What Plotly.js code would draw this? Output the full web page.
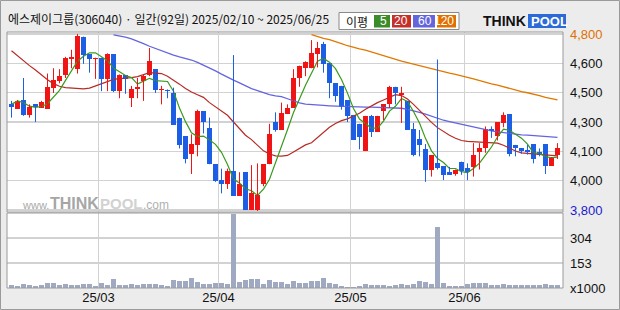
<!DOCTYPE html>
<html><head><meta charset="utf-8">
<script src="https://cdn.plot.ly/plotly-3.0.1.min.js"></script>
<style>html,body{margin:0;padding:0;background:#ececec;}#chart{width:620px;height:310px;}</style>
</head><body><div id="chart"></div>
<script>
// ---- data ----
const dates = ['2025-02-10','2025-02-11','2025-02-12','2025-02-13','2025-02-14','2025-02-17','2025-02-18','2025-02-19','2025-02-20','2025-02-21','2025-02-24','2025-02-25','2025-02-26','2025-02-27','2025-02-28',
'2025-03-04','2025-03-05','2025-03-06','2025-03-07','2025-03-10','2025-03-11','2025-03-12','2025-03-13','2025-03-14','2025-03-17','2025-03-18','2025-03-19','2025-03-20','2025-03-21','2025-03-24','2025-03-25','2025-03-26','2025-03-27','2025-03-28','2025-03-31',
'2025-04-01','2025-04-02','2025-04-03','2025-04-04','2025-04-07','2025-04-08','2025-04-09','2025-04-10','2025-04-11','2025-04-14','2025-04-15','2025-04-16','2025-04-17','2025-04-18','2025-04-21','2025-04-22','2025-04-23','2025-04-24','2025-04-25','2025-04-28','2025-04-29','2025-04-30',
'2025-05-02','2025-05-07','2025-05-08','2025-05-09','2025-05-12','2025-05-13','2025-05-14','2025-05-15','2025-05-16','2025-05-19','2025-05-20','2025-05-21','2025-05-22','2025-05-23','2025-05-26','2025-05-27','2025-05-28','2025-05-29','2025-05-30',
'2025-06-02','2025-06-04','2025-06-05','2025-06-09','2025-06-10','2025-06-11','2025-06-12','2025-06-13','2025-06-16','2025-06-17','2025-06-18','2025-06-19','2025-06-20','2025-06-23','2025-06-24','2025-06-25'];

const open = [4400,4375,4425,4340,4400,4380,4375,4495,4535,4565,4660,4600,4785,4685,4660,
4665,4545,4685,4475,4565,4435,4485,4530,4565,4600,4480,4480,4465,4325,4220,4120,4170,4360,4265,4060,
3970,3950,4020,3880,4015,3800,3800,3950,4060,4300,4255,4345,4380,4550,4605,4605,4685,4745,4635,4520,4505,4425,
4340,4290,4135,4335,4245,4365,4400,4500,4455,4420,4260,4205,4145,4030,4065,4050,4015,4005,4075,
4040,4045,4130,4150,4260,4220,4295,4345,4170,4150,4140,4175,4130,4175,4050,4115];

const high = [4420,4425,4550,4400,4400,4420,4575,4605,4600,4670,4710,4800,4785,4685,4665,
4665,4690,4685,4570,4565,4505,4550,4570,4720,4600,4505,4485,4495,4325,4220,4230,4370,4360,4325,4060,
4035,4035,4680,4015,4015,4055,4065,4060,4290,4355,4410,4400,4600,4620,4645,4765,4755,4755,4635,4520,4505,4425,
4340,4290,4335,4340,4335,4400,4505,4500,4500,4420,4295,4255,4175,4110,4655,4050,4045,4030,4075,
4065,4180,4180,4275,4275,4300,4355,4345,4170,4150,4170,4175,4150,4175,4100,4180];

const low = [4325,4375,4335,4325,4300,4380,4375,4465,4520,4550,4605,4575,4630,4580,4545,
4475,4475,4470,4435,4460,4385,4435,4420,4560,4465,4400,4435,4285,4150,4065,4005,4105,4235,4060,3960,
3895,3920,3880,3880,3800,3800,3795,3935,4060,4245,4255,4345,4380,4500,4560,4605,4610,4580,4435,4415,4370,4300,
4200,4145,4135,4215,4245,4310,4380,4400,4295,4255,4105,4105,3960,3990,4030,3970,4000,3995,4000,
3970,3990,4030,4125,4210,4195,4270,4105,4105,4120,4115,4065,4105,4005,4050,4090];

const close = [4385,4420,4340,4385,4385,4415,4500,4540,4560,4665,4670,4790,4680,4660,4665,
4545,4685,4475,4565,4545,4490,4500,4560,4645,4480,4490,4475,4285,4170,4090,4175,4365,4300,4060,3965,
3950,4020,3880,3950,3800,3895,3885,4060,4230,4255,4350,4380,4550,4620,4640,4690,4720,4630,4520,4450,4385,4335,
4200,4215,4335,4245,4335,4400,4500,4465,4465,4255,4115,4170,4030,4110,4040,4000,4000,4030,4020,
4015,4115,4150,4260,4250,4300,4340,4120,4150,4135,4130,4090,4110,4050,4100,4150];

// volume, x1000 shares
const volume = [16,10,22,16,10,16,28,28,20,22,16,16,22,22,10,28,16,53,16,20,22,20,26,26,22,16,10,47,41,41,
59,35,26,22,31,31,26,450,35,47,53,53,22,47,37,37,22,41,30,30,41,41,59,30,22,10,6,6,10,26,
16,16,16,10,16,22,16,22,41,35,22,371,28,10,10,10,22,28,28,28,16,16,22,16,16,16,16,16,16,22,16,16];

// moving averages
const ma5 = [4400,4420,4410,4390,4383,4388,4404,4444,4480,4536,4587,4645,4673,4693,4693,4668,4648,4606,4587,4564,
4552,4515,4532,4548,4535,4534,4530,4475,4379,4302,4239,4217,4220,4198,4173,4128,4059,3976,3954,3921,
3910,3883,3919,3975,4066,4157,4256,4354,4432,4509,4577,4645,4661,4640,4603,4541,4464,4377,4317,4293,
4265,4265,4305,4362,4389,4433,4417,4360,4294,4207,4136,4093,4070,4036,4036,4018,4013,4036,4066,4112,
4158,4215,4260,4253,4231,4208,4174,4125,4123,4103,4097,4101];
const ma20 = [4705,4675,4650,4620,4595,4565,4540,4518,4503,4495,4492,4490,4488,4492,4505,4518,4532,4542,4546,4548,
4552,4558,4570,4580,4578,4575,4560,4539,4515,4490,4470,4455,4440,4410,4385,4360,4338,4300,4262,4225,
4200,4165,4136,4118,4108,4106,4110,4130,4150,4170,4182,4212,4240,4270,4292,4308,4318,4332,4350,4372,
4392,4410,4425,4440,4455,4450,4430,4400,4365,4330,4298,4268,4245,4225,4208,4195,4190,4188,4186,4185,
4182,4180,4168,4152,4135,4125,4122,4120,4118,4115,4110,4108];
const ma60 = Array(17).fill(null).concat([4795,4790,4782,4772,4760,4745,4730,4717,4705,4692,4680,4670,4663,4652,4638,4623,4606,4590,4572,4553,
4538,4522,4505,4490,4478,4465,4455,4448,4444,4432,4418,4408,4402,4398,4396,4394,4392,4390,4389,4387,
4386,4385,4384,4384,4383,4383,4382,4381,4378,4372,4365,4355,4345,4333,4320,4310,4302,4294,4286,4278,
4270,4262,4255,4249,4244,4239,4234,4230,4227,4225,4222,4220,4218,4215,4213]);
const ma120 = Array(50).fill(null).concat([4796,4785,4775,4768,4758,4745,4733,4723,4715,4708,4697,4688,4676,4665,4652,4645,4637,4628,4618,4610,
4600,4592,4585,4577,4570,4560,4553,4545,4535,4525,4517,4510,4500,4490,4480,4472,4466,4460,4450,4440,4432,4425]);

const monthStarts = ['2025-03-04','2025-04-01','2025-05-02','2025-06-02'];
const monthLabels = ['25/03','25/04','25/05','25/06'];
const priceTickVals = [3800,3966.67,4133.33,4300,4466.67,4633.33,4800];
const priceTickText = ['<span style="color:#1a1acc">3,800</span>','4,000','4,100','4,300','4,500','4,600','<span style="color:#e07000">4,800</span>'];
const volTickVals = [0,152,304];
const volTickText = ['x1000','153','304'];

// ---- styling ----
const UP = '#f01414', DOWN = '#1c5ee4';
const idx = dates.map((d,i)=>i);
const bodyBase = idx.map(i=>Math.min(open[i],close[i]));
const bodyH = idx.map(i=>Math.max(Math.abs(close[i]-open[i]),6));
const bodyCol = idx.map(i=> close[i]>=open[i] ? UP : DOWN);
function wick(up){const x=[],y=[];idx.forEach(i=>{if((close[i]>=open[i])===up){x.push(i,i,null);y.push(low[i],high[i],null);}});return {x,y};}
const wu = wick(true), wd = wick(false);

const traces = [
 {type:'scatter',mode:'lines',x:idx,y:ma120,line:{color:'#e07800',width:1.3},hoverinfo:'skip',xaxis:'x',yaxis:'y'},
 {type:'scatter',mode:'lines',x:idx,y:ma60,line:{color:'#6464e0',width:1.3},hoverinfo:'skip',xaxis:'x',yaxis:'y'},
 {type:'scatter',mode:'lines',x:idx,y:ma20,line:{color:'#b82a24',width:1.2},hoverinfo:'skip',xaxis:'x',yaxis:'y'},
 {type:'scatter',mode:'lines',x:idx,y:ma5,line:{color:'#3a9a1e',width:1.2},hoverinfo:'skip',xaxis:'x',yaxis:'y'},
 {type:'bar',x:idx,y:bodyH,base:bodyBase,width:0.82,marker:{color:bodyCol,line:{width:0}},xaxis:'x',yaxis:'y',hovertext:dates},
 {type:'scatter',mode:'lines',x:wu.x,y:wu.y,line:{color:UP,width:1},hoverinfo:'skip',xaxis:'x',yaxis:'y',connectgaps:false},
 {type:'scatter',mode:'lines',x:wd.x,y:wd.y,line:{color:DOWN,width:1},hoverinfo:'skip',xaxis:'x',yaxis:'y',connectgaps:false},
 {type:'bar',x:idx,y:volume,width:0.72,marker:{color:'#9fa9c2',line:{width:0}},xaxis:'x',yaxis:'y2',hovertext:dates}
];

// pixel -> paper helpers (plot area: x 7..563, y 32..288)
const L=7,R=563,T=32,B=288;
const px = v => (v-L)/(R-L);
const py = v => (B-v)/(B-T);
const axFont = {family:'Liberation Sans Narrow, Liberation Sans, Arial',size:13,color:'#111'};

const shapes = [
 {type:'rect',xref:'paper',yref:'paper',x0:px(0.5),x1:px(619.5),y0:py(309.5),y1:py(0.5),line:{color:'#9a9a9a',width:1},layer:'below'},
 {type:'rect',xref:'paper',yref:'paper',x0:0,x1:1,y0:py(212),y1:1,line:{color:'#9a9a9a',width:1}},
 {type:'rect',xref:'paper',yref:'paper',x0:0,x1:1,y0:0,y1:py(213),line:{color:'#9a9a9a',width:1}},
 {type:'rect',xref:'paper',yref:'paper',x0:px(339),x1:px(459),y0:py(29.5),y1:py(12.5),fillcolor:'#ffffff',line:{color:'#8a8a8a',width:1}},
 {type:'rect',xref:'paper',yref:'paper',x0:px(374),x1:px(390),y0:py(27.5),y1:py(15),fillcolor:'#3d8c2a',line:{width:0}},
 {type:'rect',xref:'paper',yref:'paper',x0:px(392),x1:px(411),y0:py(27.5),y1:py(15),fillcolor:'#c4302a',line:{width:0}},
 {type:'rect',xref:'paper',yref:'paper',x0:px(413),x1:px(435),y0:py(27.5),y1:py(15),fillcolor:'#6464dc',line:{width:0}},
 {type:'rect',xref:'paper',yref:'paper',x0:px(437),x1:px(456),y0:py(27.5),y1:py(15),fillcolor:'#e07000',line:{width:0}},
 {type:'rect',xref:'paper',yref:'paper',x0:px(528),x1:px(566),y0:py(28),y1:py(14),fillcolor:'#2c6ad8',line:{width:0}}
];
const kr = 'Noto Sans CJK KR, Noto Sans, sans-serif';
function ann(x,y,text,font,xanchor){return {xref:'paper',yref:'paper',x:px(x),y:py(y),text:text,showarrow:false,xanchor:xanchor||'left',yanchor:'middle',font:font};}
const annotations = [
 ann(6,18,'에스제이그룹(306040) · 일간(92일) 2025/02/10 ~ 2025/06/25',{family:kr,size:12,color:'#111'}),
 ann(344,21,'이평',{family:kr,size:12,color:'#111'}),
 ann(389,21,'5',{family:axFont.family,size:12,color:'#fff'},'right'),
 ann(410,21,'20',{family:axFont.family,size:12,color:'#fff'},'right'),
 ann(434,21,'60',{family:axFont.family,size:12,color:'#fff'},'right'),
 ann(456,21,'120',{family:axFont.family,size:12,color:'#fff'},'right'),
 ann(481,21,'<b>THINK</b>',{family:'Liberation Sans, Arial',size:14,color:'#111'}),
 ann(529,21,'<b>POOL</b>',{family:'Liberation Sans, Arial',size:13,color:'#fff'}),
 ann(20,205,'www.',{family:'Liberation Sans, Arial',size:11,color:'#a9a9a9'}),
 ann(48,203,'<b>THINK</b>',{family:'Liberation Sans, Arial',size:16,color:'#a6a6a6'}),
 ann(98,203,'<b>POOL</b>',{family:'Liberation Sans, Arial',size:15,color:'#d2d2d2'}),
 ann(141,205,'.com',{family:'Liberation Sans, Arial',size:12,color:'#b0b0b0'})
];

const layout = {
 width:620,height:310,
 paper_bgcolor:'#ececec',plot_bgcolor:'#ffffff',
 margin:{l:L,r:620-R,t:T,b:310-B,pad:0},
 showlegend:false,barmode:'overlay',bargap:0,
 font:axFont,
 xaxis:{range:[-0.75,91.92],anchor:'y2',tickmode:'array',
   tickvals:monthStarts.map(d=>dates.indexOf(d)-0.5),ticktext:monthLabels,
   showgrid:true,gridcolor:'#d2d2d2',gridwidth:1.5,zeroline:false,ticks:'',showline:false,
   tickfont:axFont,fixedrange:true},
 yaxis:{domain:[py(212),1],range:[3789,4811],side:'right',anchor:'x',tickmode:'array',
   tickvals:priceTickVals,ticktext:priceTickText,showgrid:true,gridcolor:'#d2d2d2',gridwidth:1.5,
   zeroline:false,ticks:'',ticklabelstandoff:6,tickfont:axFont,showline:false,fixedrange:true},
 yaxis2:{domain:[0,py(213)],range:[0,456],side:'right',anchor:'x',tickmode:'array',
   tickvals:volTickVals,ticktext:volTickText,showgrid:true,gridcolor:'#d2d2d2',gridwidth:1.5,
   zeroline:false,ticks:'',ticklabelstandoff:6,tickfont:axFont,showline:false,fixedrange:true},
 shapes:shapes,annotations:annotations
};
Plotly.newPlot('chart',traces,layout,{displayModeBar:false,staticPlot:true});
</script>
</body></html>
